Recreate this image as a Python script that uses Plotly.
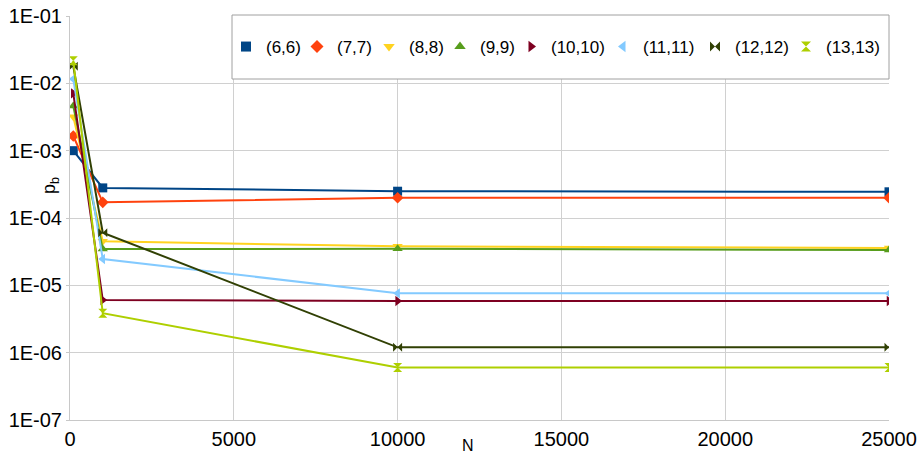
import plotly.graph_objects as go

N = [100, 1000, 10000, 25000]
series_names = ["(6,6)", "(7,7)", "(8,8)", "(9,9)", "(10,10)", "(11,11)", "(12,12)", "(13,13)"]
pb_6 = [1.0e-3, 2.8e-4, 2.5e-4, 2.45e-4]
pb_7 = [1.65e-3, 1.71e-4, 2.0e-4, 2.0e-4]
pb_8 = [3.2e-3, 4.5e-5, 3.8e-5, 3.6e-5]
pb_9 = [4.6e-3, 3.45e-5, 3.5e-5, 3.35e-5]
pb_10 = [7.1e-3, 6.05e-6, 5.85e-6, 5.85e-6]
pb_11 = [1.16e-2, 2.46e-5, 7.6e-6, 7.6e-6]
pb_12 = [1.8e-2, 6.05e-5, 1.2e-6, 1.2e-6]
pb_13 = [2.17e-2, 3.85e-6, 6.0e-7, 6.0e-7]
series_values = [pb_6, pb_7, pb_8, pb_9, pb_10, pb_11, pb_12, pb_13]

y_tickvals = [1e-7, 1e-6, 1e-5, 1e-4, 1e-3, 1e-2, 1e-1]
y_ticktext = ["1E-07", "1E-06", "1E-05", "1E-04", "1E-03", "1E-02", "1E-01"]
x_tickvals = [0, 5000, 10000, 15000, 20000, 25000]
x_ticktext = ["0", "5000", "10000", "15000", "20000", "25000"]

colors = ["#004586", "#ff420e", "#ffd320", "#579d1c", "#7e0021", "#83caff", "#314004", "#aecf00"]
symbols = ["square", "diamond", "triangle-down", "triangle-up", "triangle-right",
           "triangle-left", "bowtie", "hourglass"]

W, H = 920, 458
# plot area in window pixels
L, R, T, B = 70, 889, 16, 420
PW, PH = R - L, B - T

# legend marker x-positions (window pixels)
legend_marker_px = [248, 319, 391, 462, 533, 625, 717, 808]

fig = go.Figure()
for name, vals, c, s in zip(series_names, series_values, colors, symbols):
    fig.add_trace(go.Scatter(
        x=N, y=vals, name=name, mode="lines+markers",
        line=dict(color=c, width=2),
        marker=dict(symbol=s, size=9, color=c),
        showlegend=False,
    ))

legend_layouts = {}
for i, (name, c, s) in enumerate(zip(series_names, colors, symbols)):
    key = "legend" if i == 0 else f"legend{i + 1}"
    fig.add_trace(go.Scatter(
        x=[None], y=[None], name=name, mode="markers",
        marker=dict(symbol=s, size=10, color=c),
        showlegend=True, legend=key,
    ))
    legend_layouts[key] = dict(
        x=(legend_marker_px[i] - 22 - L) / PW, xanchor="left",
        y=(B - 47) / PH, yanchor="middle",
        bgcolor="rgba(0,0,0,0)", borderwidth=0,
        font=dict(size=17, family="Liberation Sans, Arial, sans-serif", color="#000000"),
        itemwidth=30,
    )

font = "Liberation Sans, Arial, sans-serif"
fig.update_layout(
    width=W, height=H,
    margin=dict(l=L, r=W - R, t=T, b=H - B),
    paper_bgcolor="white", plot_bgcolor="white",
    font=dict(family=font, size=20, color="#000000"),
    showlegend=True,
    xaxis=dict(range=[0, 25000], tickvals=x_tickvals, ticktext=x_ticktext, showgrid=True,
               gridcolor="#d0d0d0", gridwidth=1, zeroline=False, automargin=False,
               showline=True, linecolor="#c8c8c8", ticks="outside", ticklen=1,
               tickcolor="rgba(0,0,0,0)", tickfont=dict(size=20)),
    yaxis=dict(type="log", range=[-7, -1], tickvals=y_tickvals, ticktext=y_ticktext,
               showgrid=True, gridcolor="#d0d0d0", gridwidth=1, zeroline=False,
               automargin=False,
               showline=True, linecolor="#c8c8c8", ticks="outside", ticklen=3,
               tickcolor="#c8c8c8", tickfont=dict(size=20)),
    shapes=[dict(type="rect", xref="paper", yref="paper", x0=(232 - L) / PW, x1=1.0,
                 y0=(B - 79) / PH, y1=(B - 15) / PH, fillcolor="white",
                 line=dict(color="#a0a0a0", width=1), layer="above")],
    annotations=[
        dict(text="N", xref="paper", yref="paper", x=(468 - L) / PW, y=-(445 - B) / PH,
             showarrow=False, font=dict(size=16), xanchor="center", yanchor="middle"),
        dict(text="p<sub>b</sub>", xref="paper", yref="paper", x=-(L - 50) / PW,
             y=(B - 186) / PH, showarrow=False, textangle=-90,
             font=dict(size=18), xanchor="center", yanchor="middle"),
    ],
    **legend_layouts,
)

fig.write_html("out.html",
               config={"displayModeBar": False},
               post_script="document.body.style.margin='0';document.body.style.overflow='hidden';")
